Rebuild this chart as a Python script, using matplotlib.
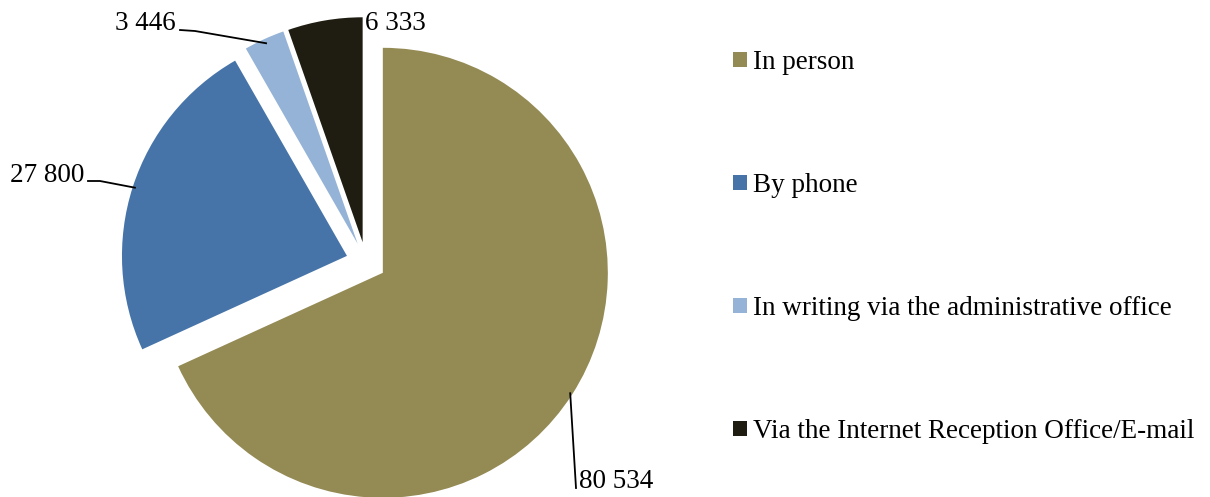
import numpy as np
import matplotlib
matplotlib.use('Agg')
from matplotlib import pyplot as plt

# Data
categories = ['In person', 'By phone',
              'In writing via the administrative office',
              'Via the Internet Reception Office/E-mail']
values = [80534, 27800, 3446, 6333]
value_labels = ['80 534', '27 800', '3 446', '6 333']
colors = ['#948A54', '#4674A8', '#95B3D7', '#1F1D12']

plt.rcParams['font.family'] = ['Liberation Serif', 'DejaVu Serif']
fs = 19.5

W, H = 1210, 497
R = 225.0            # pie radius in pixels
cx, cy = 366, 262    # pie centre in pixels (from top-left)
fig = plt.figure(figsize=(W / 100, H / 100), dpi=100)
ax = fig.add_axes([0, 0, 1, 1])

explode = [20 / R] * len(values)
wedges, _ = ax.pie(values, colors=colors, explode=explode, startangle=90,
                   counterclock=False, radius=1,
                   wedgeprops=dict(linewidth=0), frame=True)
# one data unit == pie radius, origin at the pie centre
ax.set_xlim(-cx / R, (W - cx) / R)
ax.set_ylim(-(H - cy) / R, cy / R)
ax.set_aspect('auto')
ax.axis('off')


def px(x, y):
  # pixel (from top-left) -> data coordinates
  return (x - cx) / R, (cy - y) / R


def edge_point(w, frac=1.0):
  mid = np.deg2rad((w.theta1 + w.theta2) / 2)
  x0, y0 = w.center
  return x0 + frac * np.cos(mid), y0 + frac * np.sin(mid)


# 80 534 : vertical leader below the slice
ex, ey = edge_point(wedges[0], 0.99)
tx, ty = px(576, 488)
ax.plot([ex, tx], [ey, ty], color='black', lw=1.3)
ax.text(tx + 3 / R, px(0, 481)[1], value_labels[0], fontsize=fs,
        ha='left', va='center')

# 27 800 : leader to the left
ex, ey = edge_point(wedges[1], 0.99)
kx, ky = px(100, 181)
sx, sy = px(88, 181)
ax.plot([ex, kx, sx], [ey, ky, sy], color='black', lw=1.3)
ax.text(px(84, 0)[0], px(0, 175)[1], value_labels[1], fontsize=fs,
        ha='right', va='center')

# 3 446 : leader to the upper left
ex, ey = edge_point(wedges[2], 0.98)
kx, ky = px(195, 31)
sx, sy = px(180, 30)
ax.plot([ex, kx, sx], [ey, ky, sy], color='black', lw=1.3)
ax.text(px(176, 0)[0], px(0, 24)[1], value_labels[2], fontsize=fs,
        ha='right', va='center')

# 6 333 : next to the slice top
ax.text(px(365, 0)[0], px(0, 23)[1], value_labels[3], fontsize=fs,
        ha='left', va='center')

leg = ax.legend(wedges, categories, loc='upper left',
                bbox_to_anchor=(733 / W, 1 - 50 / H),
                bbox_transform=fig.transFigure, frameon=False,
                fontsize=fs, handlelength=0.52, handleheight=0.52,
                handletextpad=0.22, labelspacing=3.62, borderpad=0,
                borderaxespad=0)

fig.savefig('out.png', dpi=100)
